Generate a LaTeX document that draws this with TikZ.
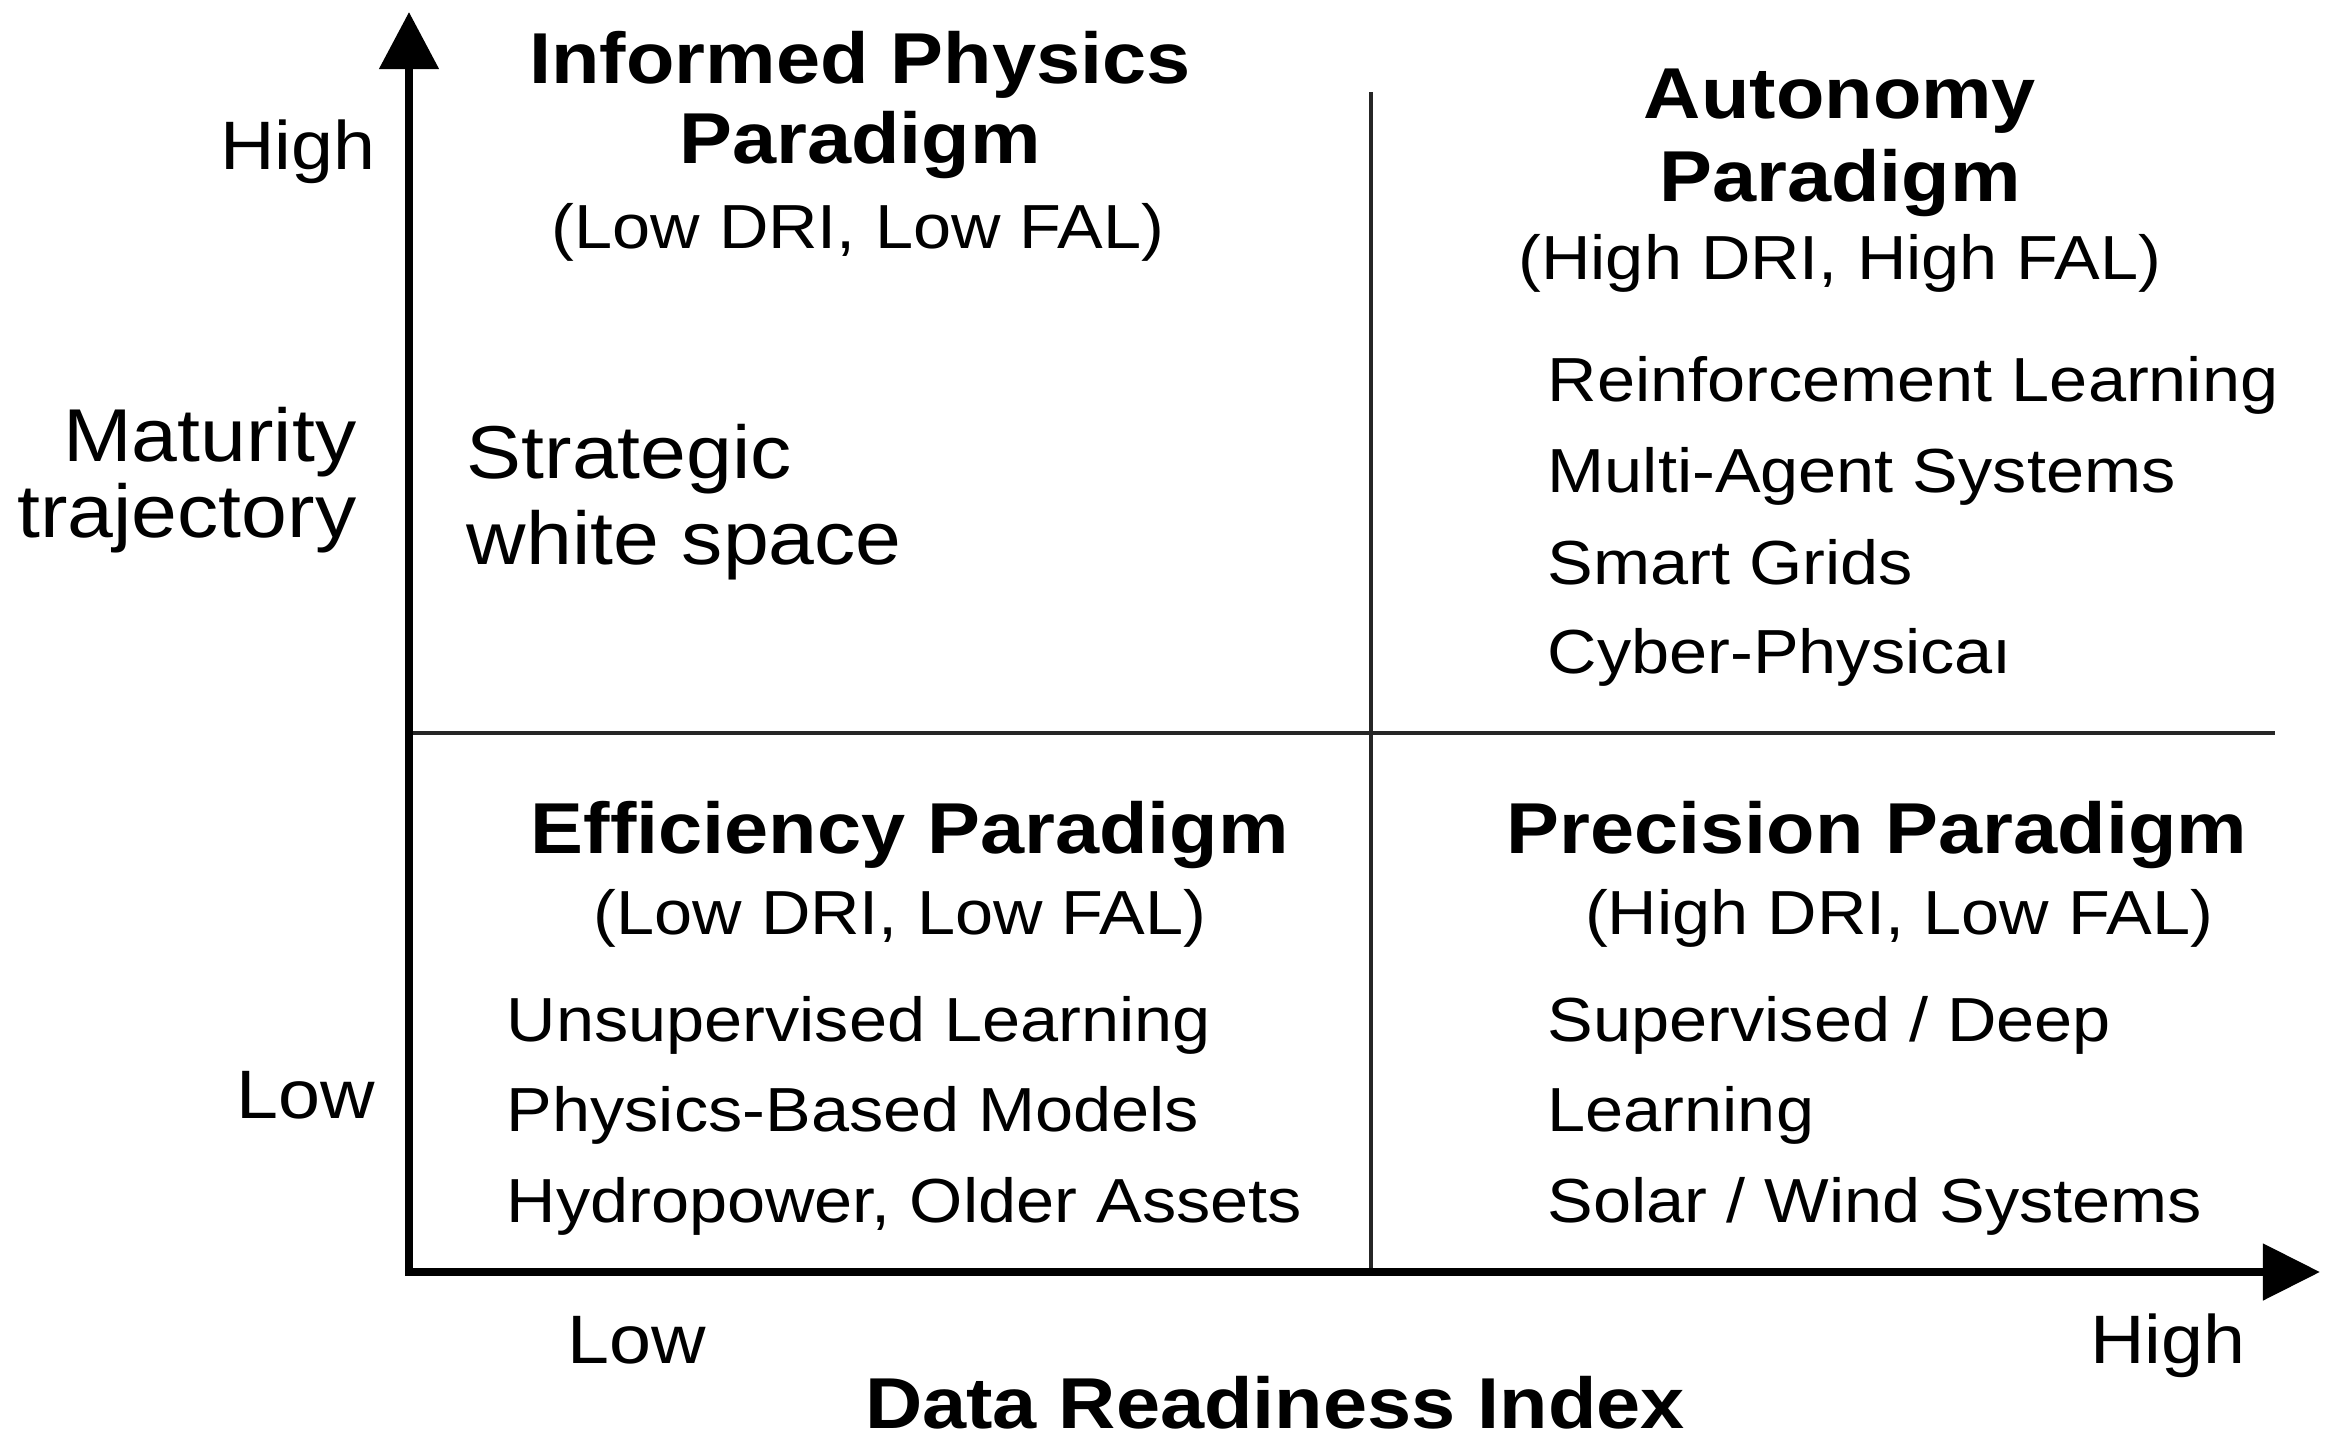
\documentclass[tikz,border=0pt]{standalone}
\usepackage{fontspec}
\setmainfont[FakeStretch=1.1]{Liberation Sans}
\usetikzlibrary{arrows.meta}
\begin{document}
\begin{tikzpicture}[x=0.01cm,y=-0.01cm,
  heading/.style={font=\fontsize{20.5}{24}\selectfont\bfseries, anchor=base, inner sep=0pt},
  sub/.style={font=\fontsize{17.7}{21}\selectfont, anchor=base, inner sep=0pt},
  item/.style={font=\fontsize{17.7}{21}\selectfont, anchor=base west, inner sep=0pt},
  big/.style={font=\fontsize{21.3}{25}\selectfont, inner sep=0pt},
  axlabel/.style={font=\fontsize{19.5}{23}\selectfont, inner sep=0pt},
  axisline/.style={line width=2.3pt, {Triangle[length=0.57cm,width=0.58cm]}-{Triangle[length=0.57cm,width=0.55cm]}},
  divider/.style={line width=1.3pt, black!85}]
\useasboundingbox (0,0) rectangle (2332,1451);
\fill[white] (0,0) rectangle (2332,1451);

% axes and dividers
\coordinate (O) at (409,1272);
\coordinate (ytip) at (409,12);
\coordinate (xtip) at (2320,1272);
\coordinate (hL) at (409,733);
\coordinate (hR) at (2275,733);
\coordinate (vT) at (1371,92);
\coordinate (vB) at (1371,1272);
\draw[divider] (hL) -- (hR);
\draw[divider] (vT) -- (vB);
\draw[axisline] (ytip) -- (O) -- (xtip);

% top-left quadrant
\node[heading] (ip1) at (860,83) {Informed Physics};
\node[heading] (ip2) at (860,163) {Paradigm};
\node[sub] (ip3) at (858,248) {(Low DRI, Low FAL)};
\node[big, anchor=base west] (sw1) at (466,478) {Strategic};
\node[big, anchor=base west] (sw2) at (466,564) {white space};

% top-right quadrant
\node[heading] (au1) at (1840,118) {Autonomy};
\node[heading] (au2) at (1840,201) {Paradigm};
\node[sub] (au3) at (1840,279) {(High DRI, High FAL)};
\node[item] (au4) at (1547,401) {Reinforcement Learning};
\node[item] (au5) at (1547,492) {Multi-Agent Systems};
\node[item] (au6) at (1547,584) {Smart Grids};
\node[item] (au7) at (1547,673) {Cyber-Physica{\i}};

% bottom-left quadrant
\node[heading] (ef1) at (910,853) {Efficiency Paradigm};
\node[sub] (ef2) at (900,934) {(Low DRI, Low FAL)};
\node[item] (ef3) at (506,1041) {Unsupervised Learning};
\node[item] (ef4) at (506,1131) {Physics-Based Models};
\node[item] (ef5) at (506,1222) {Hydropower, Older Assets};

% bottom-right quadrant
\node[heading] (pr1) at (1877,853) {Precision Paradigm};
\node[sub] (pr2) at (1899,934) {(High DRI, Low FAL)};
\node[item] (pr3) at (1547,1041) {Supervised / Deep};
\node[item] (pr4) at (1547,1131) {Learning};
\node[item] (pr5) at (1547,1222) {Solar / Wind Systems};

% axis labels
\node[axlabel, anchor=base east] (yhigh) at (376,169) {High};
\node[axlabel, anchor=base east] (ylow) at (376,1118) {Low};
\node[big, anchor=base east] (mt1) at (357,461) {Maturity};
\node[big, anchor=base east] (mt2) at (357,537) {trajectory};
\node[axlabel, anchor=base] (xlow) at (637,1363) {Low};
\node[axlabel, anchor=base] (xhigh) at (2168,1363) {High};
\node[heading] (dri) at (1275,1428) {Data Readiness Index};
\end{tikzpicture}
\end{document}
